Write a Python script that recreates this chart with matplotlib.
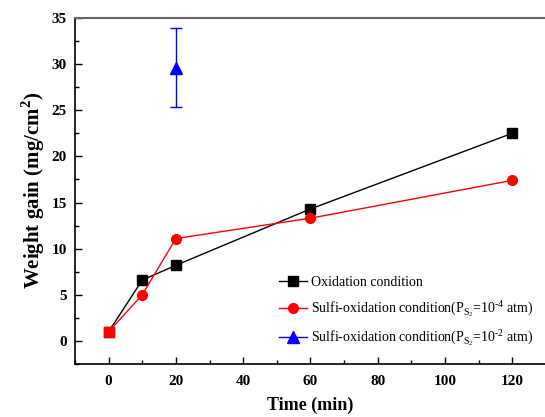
import matplotlib.pyplot as plt
from matplotlib.ticker import MultipleLocator

# data
time_ox = [0, 10, 20, 60, 120]
gain_ox = [1.0, 6.6, 8.2, 14.3, 22.5]

time_s4 = [0, 10, 20, 60, 120]
gain_s4 = [1.0, 5.0, 11.1, 13.3, 17.4]

time_s2 = [20]
gain_s2 = [29.6]
err_s2 = [4.3]

plt.rcParams['font.family'] = 'Liberation Serif'
plt.rcParams['mathtext.fontset'] = 'custom'
plt.rcParams['mathtext.rm'] = 'Liberation Serif'
plt.rcParams['mathtext.bf'] = 'Liberation Serif:bold'

fig = plt.figure(figsize=(5.45, 4.17), dpi=100)
ax = fig.add_axes([0.1376, 0.127, 0.864, 0.830])

ax.plot(time_ox, gain_ox, color='black', lw=1, marker='s', ms=6.5,
        label='Oxidation condition')
ax.plot(time_s4, gain_s4, color='red', lw=1, marker='o', ms=7,
        label=r'Sulfi-oxidation condition(P$_{\mathregular{S_2}}$=10$^{\mathregular{\text{-}4}}$ atm)')
# first red point is drawn as a square in the original
ax.plot(time_s4[:1], gain_s4[:1], color='red', ls='none', marker='s', ms=6.5)
ax.errorbar(time_s2, gain_s2, yerr=err_s2, color='blue', lw=1, marker='^', ms=8,
            capsize=4, capthick=1)
ax.plot([], [], color='blue', lw=1, marker='^', ms=8,
        label=r'Sulfi-oxidation condition(P$_{\mathregular{S_2}}$=10$^{\mathregular{\text{-}2}}$ atm)')

ax.set_xlim(-10, 130)
ax.set_ylim(-2.5, 35)
ax.xaxis.set_major_locator(MultipleLocator(20))
ax.xaxis.set_minor_locator(MultipleLocator(10))
ax.yaxis.set_major_locator(MultipleLocator(5))
ax.yaxis.set_minor_locator(MultipleLocator(2.5))
ax.tick_params(which='both', direction='in', top=False, right=False)
ax.tick_params(which='major', length=5, width=1, labelsize=11)
ax.tick_params(axis='x', which='major', pad=8)
ax.tick_params(axis='y', which='major', pad=6)
ax.tick_params(which='minor', length=3, width=1)
for lab in ax.get_xticklabels() + ax.get_yticklabels():
    lab.set_fontweight('bold')

ax.spines['right'].set_visible(False)
ax.spines['top'].set_color('#666666')
ax.spines['top'].set_linewidth(1.5)
ax.spines['left'].set_linewidth(1.2)
ax.spines['bottom'].set_linewidth(1.2)

ax.set_xlabel('Time (min)', fontsize=13, fontweight='bold', labelpad=6)
ax.set_ylabel(r'Weight gain (mg/cm$^{\mathbf{2}}$)', fontsize=15, fontweight='bold', labelpad=3)

ax.legend(loc='lower right', bbox_to_anchor=(1.0, 0.01), frameon=False,
          fontsize=10, handlelength=2.0, handletextpad=0.3, labelspacing=0.65)

fig.savefig('out.png', dpi=100)
